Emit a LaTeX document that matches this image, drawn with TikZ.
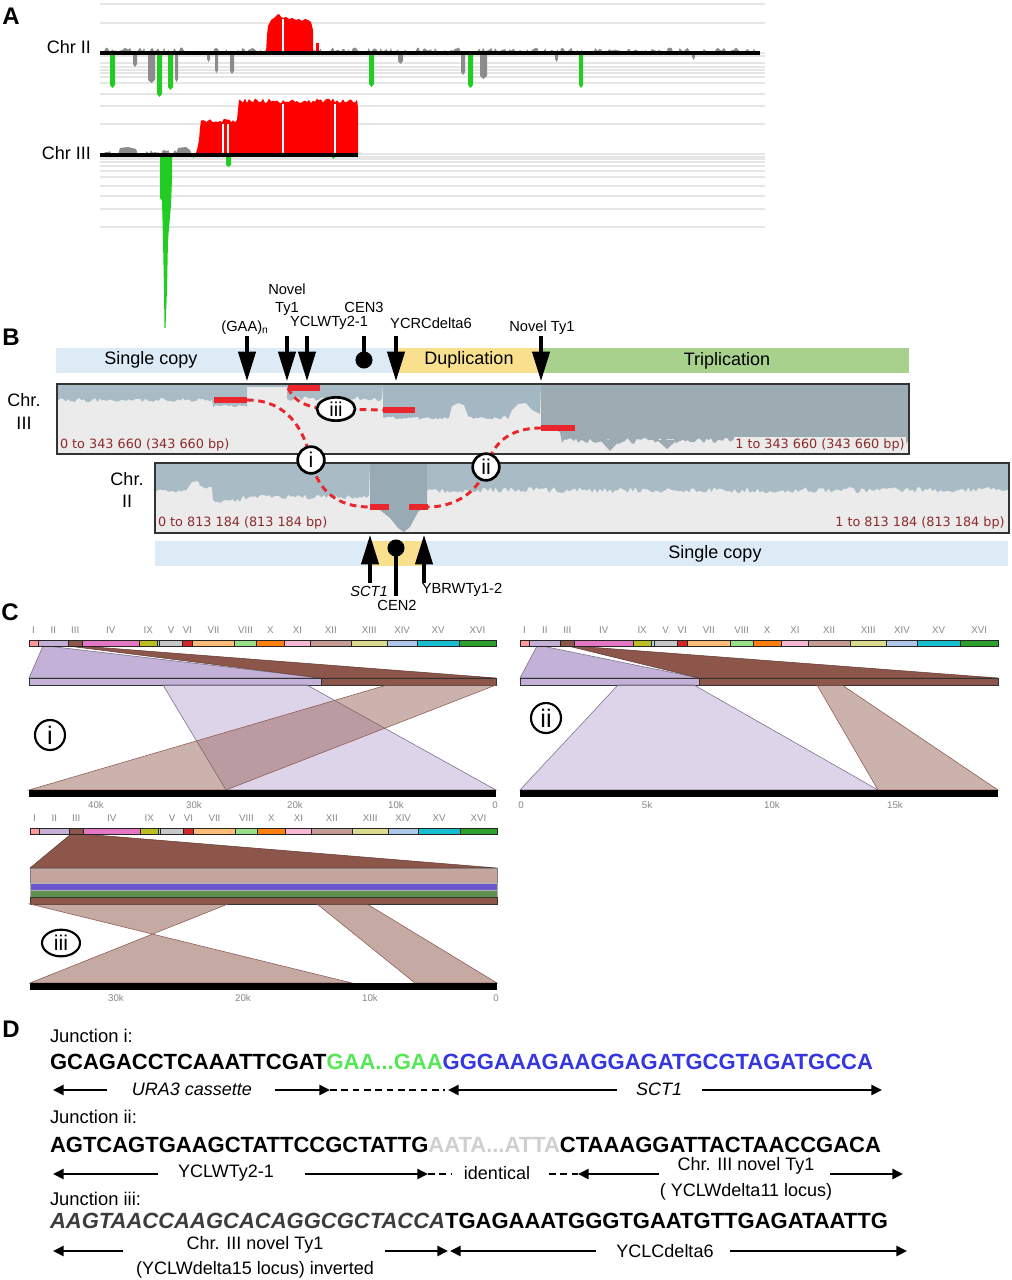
\documentclass[tikz,border=0pt]{standalone}
\usepackage{fontspec}
\setmainfont{Liberation Sans}
\newfontfamily\dvs{DejaVu Sans}
\usetikzlibrary{arrows.meta,shapes.geometric}
\definecolor{gridc}{HTML}{E6E6E6}
\definecolor{gA}{HTML}{8C8C8C}
\definecolor{redA}{HTML}{FF0000}
\definecolor{greenA}{HTML}{22CC22}
\definecolor{bandB}{HTML}{DDEBF7}
\definecolor{bandY}{HTML}{F9E08F}
\definecolor{bandG}{HTML}{A9D18E}
\definecolor{boxbg}{HTML}{EBEBEB}
\definecolor{covS}{HTML}{A9BCC6}
\definecolor{covD}{HTML}{A3B8C3}
\definecolor{covT}{HTML}{9DACB3}
\definecolor{covC}{HTML}{98AAB3}
\definecolor{redB}{HTML}{E8262B}
\definecolor{coordc}{HTML}{8E2A2A}
\definecolor{romc}{HTML}{888888}
\definecolor{lavC}{HTML}{C3B1D8}
\definecolor{brC}{HTML}{8C564B}
\definecolor{rosyC}{HTML}{C4A69E}
\definecolor{purpC}{HTML}{6A58D0}
\definecolor{grnC}{HTML}{5F8F4F}
\definecolor{seqgreen}{HTML}{55E855}
\definecolor{seqblue}{HTML}{3535E2}
\definecolor{seqgrey}{HTML}{CFCFCF}
\definecolor{seqdark}{HTML}{3C3C3C}
\definecolor{cI}{HTML}{FF9896}
\definecolor{cII}{HTML}{C5B0D5}
\definecolor{cIII}{HTML}{8C564B}
\definecolor{cIV}{HTML}{E377C2}
\definecolor{cIX}{HTML}{BCBD22}
\definecolor{cM}{HTML}{9EDAE5}
\definecolor{cV}{HTML}{C7C7C7}
\definecolor{cVI}{HTML}{D62728}
\definecolor{cVII}{HTML}{FFBB78}
\definecolor{cVIII}{HTML}{98DF8A}
\definecolor{cX}{HTML}{FF7F0E}
\definecolor{cXI}{HTML}{F7B6D2}
\definecolor{cXII}{HTML}{C49C94}
\definecolor{cXIII}{HTML}{DBDB8D}
\definecolor{cXIV}{HTML}{AEC7E8}
\definecolor{cXV}{HTML}{17BECF}
\definecolor{cXVI}{HTML}{2CA02C}
\newcommand\chrbar[4]{%
 \foreach \aa/\bb/\cc in {0/0.019/cI,0.019/0.085/cII,0.085/0.113/cIII,0.113/0.237/cIV,0.237/0.274/cIX,0.274/0.280/cM,0.280/0.329/cV,0.329/0.350/cVI,0.350/0.440/cVII,0.440/0.487/cVIII,0.487/0.547/cX,0.547/0.603/cXI,0.603/0.690/cXII,0.690/0.767/cXIII,0.767/0.831/cXIV,0.831/0.921/cXV,0.921/1/cXVI}{%
  \filldraw[fill=\cc, draw=black!85, line width=0.4pt] ({#1+\aa*(#2-#1)},#3) rectangle ({#1+\bb*(#2-#1)},{#3+6});}
 \foreach \aa/\bb/\ll [count=\kk] in {0/0.019/I,0.019/0.085/II,0.085/0.113/III,0.113/0.237/IV,0.237/0.274/IX,0.280/0.329/V,0.329/0.350/VI,0.350/0.440/VII,0.440/0.487/VIII,0.487/0.547/X,0.547/0.603/XI,0.603/0.690/XII,0.690/0.767/XIII,0.767/0.831/XIV,0.831/0.921/XV,0.921/1/XVI}{%
  \node[roman] (r#1-#3-\kk) at ({#1+(\aa+\bb)/2*(#2-#1)},#4) {\ll};}
}
\tikzset{
 plet/.style={font=\fontsize{18}{18}\selectfont\bfseries},
 chrA/.style={font=\fontsize{13.5}{14}\selectfont, anchor=east},
 gridl/.style={draw=gridc, line width=2.2pt},
 bandtxt/.style={font=\fontsize{13.5}{14}\selectfont},
 alab/.style={font=\fontsize{11}{13.5}\selectfont},
 bigarr/.style={line width=2.3pt, -{Triangle[length=22pt,width=13pt]}},
 stem/.style={line width=2.3pt},
 coordtxt/.style={font=\dvs\fontsize{9.6}{10}\selectfont, text=coordc},
 redbar/.style={draw=redB, line width=3.8pt},
 reddash/.style={draw=redB, line width=2.2pt, dash pattern=on 5pt off 3.5pt},
 circB/.style={circle, draw, line width=2pt, fill=white, minimum size=20pt, font=\fontsize{16}{16}\selectfont},
 ellB/.style={ellipse, draw, line width=2pt, fill=white, minimum width=28.5pt, minimum height=17.5pt, font=\fontsize{15}{15}\selectfont},
 roman/.style={font=\fontsize{7.3}{7.3}\selectfont, text=romc},
 scalet/.style={font=\fontsize{7.3}{7.3}\selectfont, text=romc},
 circC/.style={circle, draw, line width=1.6pt, minimum size=22.5pt, font=\fontsize{19}{19}\selectfont},
 ellC/.style={ellipse, draw, line width=1.6pt, minimum width=28.5pt, minimum height=20pt, font=\fontsize{16}{16}\selectfont},
 junc/.style={font=\fontsize{13.8}{14}\selectfont, anchor=west},
 seq/.style={font=\fontsize{16.5}{17}\selectfont\bfseries, anchor=west},
 dlab/.style={font=\fontsize{13.5}{19.5}\selectfont},
 darr/.style={line width=1.9pt, -{Triangle[length=8pt,width=7.5pt]}},
 ddash/.style={line width=1.9pt, dash pattern=on 5pt off 3.5pt},
}
\begin{document}
\begin{tikzpicture}[x=0.75pt,y=-0.75pt, every node/.style={inner sep=0pt, outer sep=0pt}]
\pgfmathsetseed{7}
\useasboundingbox (0,0) rectangle (1011,1280);
\fill[white] (0,0) rectangle (1011,1280);

% ================= Panel A =================
\node[plet] (lA) at (11,16) {A};
\foreach \y in {4,23,53,56,63,67,70,73,77,83,94,106,124,154,157,159,162,166,171,177,186,196,209,227}
  \draw[gridl] (100,\y) -- (765,\y);
% Chr II
\fill[gA] (100,53) -- plot[domain=100:760,samples=330] (\x,{51.5-4*rand}) -- (760,53) -- cycle;
\foreach \a/\b/\d in {133/137/67,148/155/83,175/178/82,207/210/62,215/218/73,230/234/74,398/403/64,461/465/75,480/487/79,555/558/62,692/695/60}
  \fill[gA] (\a,53) -- (\a,\d-3) -- ({(\a+\b)/2},\d) -- (\b,\d-3) -- (\b,53) -- cycle;
\foreach \a/\b/\d in {110/115/88,157/162/97,168/173/90,369/374/87,468/473/88,579/583/88}
  \fill[greenA] (\a,53) -- (\a,\d-3) -- ({(\a+\b)/2},\d) -- (\b,\d-3) -- (\b,53) -- cycle;
\fill[redA] (266,53) -- (267,35) -- (268,26) -- (271,20) -- (274,18) -- (277,15) -- (279,14) -- (281,17) -- (283,18) -- (286,17) -- (289,19) -- (292,18) -- (296,20) -- (299,19) -- (302,21) -- (305,19) -- (308,20) -- (311,22) -- (313,30) -- (313,53) -- cycle;
\fill[redA] (316,53) rectangle (319,43);
\draw[white, line width=1pt] (283,19) -- (283,51);
\draw[line width=2.6pt] (100,53) -- (760,53);
\node[chrA] (chrII) at (91,47) {Chr II};
% Chr III
\fill[gA] (100,155) -- plot[domain=100:196,samples=50] (\x,{153-2.8*rand}) -- (196,155) -- cycle;
\fill[gA] (118,155) -- (120,148) -- (128,147) -- (136,149) -- (138,155) -- cycle;
\fill[gA] (176,155) -- (178,148) -- (186,147) -- (190,150) -- (192,155) -- cycle;
\fill[redA] (195,155) -- (197,150) -- (199,140) -- (200,128) -- plot[domain=201:237,samples=20] (\x,{121+2*rand}) -- (238,110) -- plot[domain=239:357,samples=60] (\x,{101+2.5*rand}) -- (358,108) -- (358,155) -- cycle;
\foreach \g/\t in {223/124,228/124,283/104,335/104}
  \draw[white, line width=1pt] (\g,\t) -- (\g,153);
\fill[greenA] (160,156) -- (160,198) -- (162,201) -- (163,240) -- (164,290) -- (164.5,328) -- (165.5,328) -- (167,290) -- (168,240) -- (171,205) -- (172,180) -- (172,156) -- cycle;
\foreach \a/\b/\d in {192/195/158,226/231/167,332/335/159}
  \fill[greenA] (\a,155) -- (\a,\d-2) -- ({(\a+\b)/2},\d) -- (\b,\d-2) -- (\b,155) -- cycle;
\draw[line width=2.6pt] (100,155) -- (358,155);
\node[chrA] (chrIII) at (91,153) {Chr III};

% ================= Panel B =================
\node[plet] (lB) at (11,337) {B};
\fill[bandB] (56,348) rectangle (397,373);
\fill[bandY] (397,348) rectangle (541,373);
\fill[bandG] (541,348) rectangle (909,373);
\node[bandtxt] (sc1) at (151,360) {Single copy};
\node[bandtxt] (dup) at (469,360) {Duplication};
\node[bandtxt] (tri) at (727,361) {Triplication};
% arrow labels
\node[alab] (gaa) at (245,328) {(GAA)\textsubscript{n}};
\node[alab, align=center] (nov1) at (287,300) {Novel\\Ty1};
\node[alab] (yclw) at (329,323) {YCLWTy2-1};
\node[alab] (cen3) at (364,307) {CEN3};
\node[alab] (ycrc) at (431,323) {YCRCdelta6};
\node[alab] (nov2) at (542,328) {Novel Ty1};
\foreach \n/\xx in {a/247,b/287,c/307,d/396,e/541}{
  \coordinate (top\n) at (\xx,336);
  \coordinate (tip\n) at (\xx,381);
  \draw[bigarr] (top\n) -- (tip\n);}
\coordinate (cen3t) at (364,336);
\coordinate (cen3b) at (364,360);
\draw[stem] (cen3t) -- (cen3b);
\fill (cen3b) circle[radius=6.4pt];
% Chr III box
\fill[boxbg] (57,384) rectangle (909,454);
\fill[covS] (57,384) -- (57,399) -- plot[domain=57:212,samples=70] (\x,{400+2.2*rand}) -- plot[domain=213:247,samples=14] (\x,{406+1.2*rand}) -- (247,384) -- cycle;
\fill[covS] (247,384) rectangle (287,387);
\fill[covS] (287,384) -- plot[domain=287:382,samples=40] (\x,{398+3*rand}) -- (383,384) -- cycle;
\fill[covD] (383,384) -- (383,417) -- plot[domain=384:449,samples=30] (\x,{418+1.8*rand}) -- (452,406) -- (458,403) -- (464,405) -- (468,416) -- plot[domain=469:508,samples=18] (\x,{418+1.8*rand}) -- (512,410) -- (518,404) -- (526,403) -- (532,410) -- (540,414) -- (541,384) -- cycle;
\fill[covT] (541,384) -- (541,426) -- (550,428) -- (560,432) -- plot[domain=562:909,samples=150] (\x,{441+3*rand}) -- (909,384) -- cycle;
\fill[covT] (600,440) -- (610,451) -- (620,440) -- cycle;
\fill[covT] (657,440) -- (667,449) -- (677,440) -- cycle;
\draw[black!80, line width=1.1pt] (57,384) rectangle (909,454);
\node[coordtxt, anchor=west] (c3l) at (60,445) {0 to 343 660 (343 660 bp)};
\node[coordtxt, anchor=east, fill=boxbg, inner sep=1pt] (c3r) at (906,445) {1 to 343 660 (343 660 bp)};
\node[bandtxt] (chrB3a) at (24,400) {Chr.};
\node[bandtxt] (chrB3b) at (24,423) {III};
% Chr II box
\fill[boxbg] (155,463) rectangle (1009,533);
\fill[covS] (155,463) -- (155,490) -- plot[domain=156:186,samples=14] (\x,{491+1.5*rand}) -- (192,482) -- (198,481) -- plot[domain=200:212,samples=6] (\x,{487+1.5*rand}) -- plot[domain=213:240,samples=12] (\x,{501+2*rand}) -- plot[domain=241:369,samples=55] (\x,{497+2.5*rand}) -- (370,463) -- cycle;
\fill[covC] (370,463) -- (370,505) -- (380,510) -- (390,518) -- (398,528) -- (404,532) -- (410,527) -- (418,512) -- (427,505) -- (427,463) -- cycle;
\fill[covS] (427,463) -- plot[domain=427:1009,samples=230] (\x,{490+3*rand}) -- (1009,463) -- cycle;
\draw[black!80, line width=1.1pt] (155,463) rectangle (1009,533);
\node[coordtxt, anchor=west] (c2l) at (158,523) {0 to 813 184 (813 184 bp)};
\node[coordtxt, anchor=east, fill=boxbg, inner sep=1pt] (c2r) at (1006,523) {1 to 813 184 (813 184 bp)};
\node[bandtxt] (chrB2a) at (127,479) {Chr.};
\node[bandtxt] (chrB2b) at (127,501) {II};
% bottom band
\fill[bandB] (155,541) rectangle (1008,566);
\fill[bandY] (371,541) rectangle (425,566);
\node[bandtxt] (sc2) at (715,554) {Single copy};
\coordinate (sctB) at (370,583);
\coordinate (sctT) at (370,535);
\draw[bigarr] (sctB) -- (sctT);
\coordinate (ybrB) at (424,583);
\coordinate (ybrT) at (424,535);
\draw[bigarr] (ybrB) -- (ybrT);
\coordinate (cen2t) at (396,548);
\coordinate (cen2b) at (396,596);
\draw[stem] (cen2t) -- (cen2b);
\fill (cen2t) circle[radius=6.4pt];
\node[alab, font=\fontsize{11}{13}\selectfont\itshape] (sct) at (369,591) {SCT1};
\node[alab] (cen2) at (397,605) {CEN2};
\node[alab] (ybr) at (462,590) {YBRWTy1-2};
% red junction marks
\coordinate (b1L) at (214,400); \coordinate (b1R) at (247,400);
\coordinate (b2L) at (288,388); \coordinate (b2R) at (320,388);
\coordinate (b3L) at (383,410); \coordinate (b3R) at (415,410);
\coordinate (b4L) at (541,428); \coordinate (b4R) at (575,428);
\coordinate (b5L) at (370,507); \coordinate (b5R) at (389,507);
\coordinate (b6L) at (409,507); \coordinate (b6R) at (428,507);
\coordinate (ciC) at (311,460);
\coordinate (ciiC) at (486,467);
\coordinate (ciiiC) at (336,409);
\draw[reddash] (b1R) .. controls (288,400) and (304,430) .. (ciC) .. controls (318,492) and (338,507) .. (b5L);
\draw[reddash] (b4L) .. controls (507,428) and (493,445) .. (ciiC) .. controls (479,492) and (455,507) .. (b6R);
\draw[reddash] (b2L) .. controls (294,401) and (306,409) .. (ciiiC) -- (b3L);
\foreach \k in {1,...,6} \draw[redbar] (b\k L) -- (b\k R);
\node[circB] (ci) at (ciC) {i};
\node[circB] (cii) at (ciiC) {ii};
\node[ellB] (ciii) at (ciiiC) {iii};

% ================= Panel C =================
\node[plet] (lC) at (10,612) {C};
% --- i
\filldraw[fill=lavC, draw=lavC!60!black, line width=0.4pt] (43,646) -- (47,646) -- (321,678) -- (29,678) -- cycle;
\filldraw[fill=brC, draw=brC!70!black, line width=0.4pt] (68,646) -- (81,646) -- (496,678) -- (321,678) -- cycle;
\filldraw[fill=lavC, draw=black!80, line width=0.5pt] (29,678) rectangle (321,685);
\filldraw[fill=brC, draw=black!80, line width=0.5pt] (321,678) rectangle (496,685);
\filldraw[fill=lavC, fill opacity=0.55, draw=lavC!60!black, line width=0.4pt] (163,685) -- (307,685) -- (496,790) -- (226,790) -- cycle;
\filldraw[fill=brC, fill opacity=0.45, draw=brC, line width=0.4pt] (387,685) -- (496,685) -- (226,790) -- (29,790) -- cycle;
\fill[black] (29,790) rectangle (496,797);
\chrbar{29}{496}{640}{630}
\node[circC] (cCi) at (50,735) {i};
\foreach \t/\xx [count=\k] in {40k/96,30k/194,20k/295,10k/396,0/495}
  \node[scalet] (si\k) at (\xx,805) {\t};
% --- ii
\filldraw[fill=lavC, draw=lavC!60!black, line width=0.4pt] (537,646) -- (542,646) -- (699,678) -- (520,678) -- cycle;
\filldraw[fill=brC, draw=brC!70!black, line width=0.4pt] (568,646) -- (575,646) -- (998,678) -- (699,678) -- cycle;
\filldraw[fill=lavC, draw=black!80, line width=0.5pt] (520,678) rectangle (699,685);
\filldraw[fill=brC, draw=black!80, line width=0.5pt] (699,678) rectangle (998,685);
\filldraw[fill=lavC, fill opacity=0.55, draw=lavC!60!black, line width=0.4pt] (618,685) -- (694,685) -- (878,790) -- (520,790) -- cycle;
\filldraw[fill=brC, fill opacity=0.45, draw=brC, line width=0.4pt] (817,685) -- (842,685) -- (998,790) -- (878,790) -- cycle;
\fill[black] (520,790) rectangle (998,797);
\chrbar{520}{998}{640}{630}
\node[circC] (cCii) at (546,718) {ii};
\foreach \t/\xx [count=\k] in {0/521,5k/647,10k/772,15k/895}
  \node[scalet] (sii\k) at (\xx,805) {\t};
% --- iii
\filldraw[fill=brC, draw=brC!70!black, line width=0.4pt] (71,834) -- (83,834) -- (497,868) -- (30,868) -- cycle;
\filldraw[fill=rosyC, draw=black!50, line width=0.4pt] (30,868) rectangle (497,883);
\filldraw[fill=purpC, draw=black!30, line width=0.4pt] (30,883) rectangle (497,890);
\filldraw[fill=grnC, draw=black!30, line width=0.4pt] (30,890.5) rectangle (497,897);
\filldraw[fill=brC, draw=black!80, line width=0.5pt] (30,897) rectangle (497,904);
\filldraw[fill=brC, fill opacity=0.5, draw=brC, line width=0.4pt] (30,904) -- (228,904) -- (30,983) -- (352,983) -- cycle;
\filldraw[fill=brC, fill opacity=0.5, draw=brC, line width=0.4pt] (317,904) -- (367,904) -- (497,983) -- (415,983) -- cycle;
\fill[black] (30,983) rectangle (497,990);
\chrbar{30}{497}{828}{818}
\node[ellC] (cCiii) at (61,943) {iii};
\foreach \t/\xx [count=\k] in {30k/116,20k/243,10k/370,0/496}
  \node[scalet] (siii\k) at (\xx,998) {\t};

% ================= Panel D =================
\node[plet] (lD) at (11,1029) {D};
\node[junc] (j1) at (50,1036) {Junction i:};
\node[seq] (s1) at (50,1062) {GCAGACCTCAAATTCGAT\textcolor{seqgreen}{GAA...GAA}\textcolor{seqblue}{GGGAAAGAAGGAGATGCGTAGATGCCA}};
\node[dlab, font=\fontsize{13.5}{16}\selectfont\itshape] (ura) at (192,1089) {URA3 cassette};
\node[dlab, font=\fontsize{13.5}{16}\selectfont\itshape] (sct1) at (659,1089) {SCT1};
\coordinate (d1a) at (107,1090); \coordinate (d1b) at (53,1090);
\coordinate (d1c) at (275,1090); \coordinate (d1d) at (330,1090);
\coordinate (d1e) at (445,1090);
\coordinate (d1f) at (617,1090); \coordinate (d1g) at (448,1090);
\coordinate (d1h) at (702,1090); \coordinate (d1i) at (882,1090);
\draw[darr] (d1a) -- (d1b);
\draw[darr] (d1c) -- (d1d);
\draw[ddash] (d1d) -- (d1e);
\draw[darr] (d1f) -- (d1g);
\draw[darr] (d1h) -- (d1i);

\node[junc] (j2) at (50,1117) {Junction ii:};
\node[seq] (s2) at (50,1145) {AGTCAGTGAAGCTATTCCGCTATTG\textcolor{seqgrey}{AATA...ATTA}CTAAAGGATTACTAACCGACA};
\node[dlab] (ycl2) at (226,1173) {YCLWTy2-1};
\node[dlab] (iden) at (497,1173) {identical};
\node[dlab, align=center] (nov11) at (746,1179) {Chr. III novel Ty1\\( YCLWdelta11 locus)};
\coordinate (d2a) at (158,1174); \coordinate (d2b) at (53,1174);
\coordinate (d2c) at (305,1174); \coordinate (d2d) at (428,1174);
\coordinate (d2e) at (452,1174);
\coordinate (d2f) at (549,1174); \coordinate (d2g) at (578,1174);
\coordinate (d2h) at (659,1174);
\coordinate (d2i) at (830,1174); \coordinate (d2j) at (903,1174);
\draw[darr] (d2a) -- (d2b);
\draw[darr] (d2c) -- (d2d);
\draw[ddash] (d2d) -- (d2e);
\draw[ddash] (d2f) -- (d2g);
\draw[darr] (d2h) -- (d2g);
\draw[darr] (d2i) -- (d2j);

\node[junc] (j3) at (50,1199) {Junction iii:};
\node[seq] (s3) at (50,1221) {\textcolor{seqdark}{\itshape AAGTAACCAAGCACAGGCGCTACCA}TGAGAAATGGGTGAATGTTGAGATAATTG};
\node[dlab, font=\fontsize{13.5}{18.75}\selectfont, align=center] (nov15) at (255,1257) {Chr. III novel Ty1\\(YCLWdelta15 locus) inverted};
\node[dlab] (yclc) at (665,1251) {YCLCdelta6};
\coordinate (d3a) at (123,1251); \coordinate (d3b) at (53,1251);
\coordinate (d3c) at (385,1251); \coordinate (d3d) at (448,1251);
\coordinate (d3e) at (596,1251); \coordinate (d3f) at (450,1251);
\coordinate (d3g) at (730,1251); \coordinate (d3h) at (907,1251);
\draw[darr] (d3a) -- (d3b);
\draw[darr] (d3c) -- (d3d);
\draw[darr] (d3e) -- (d3f);
\draw[darr] (d3g) -- (d3h);
\end{tikzpicture}
\end{document}
